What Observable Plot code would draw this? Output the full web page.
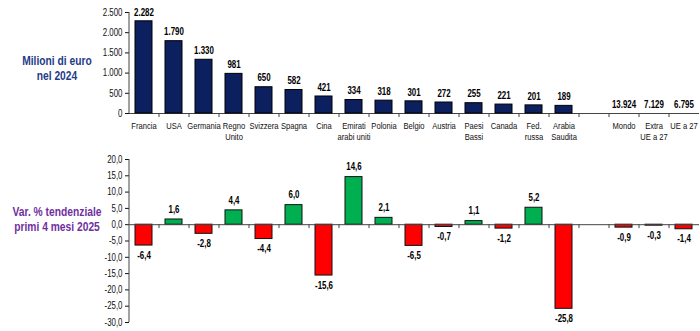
<!DOCTYPE html>
<html>
<head>
<meta charset="utf-8">
<script src="https://cdn.jsdelivr.net/npm/d3@7"></script>
<script src="https://cdn.jsdelivr.net/npm/@observablehq/plot@0.6"></script>
<style>
  html, body { margin: 0; padding: 0; background: #fff; }
  #wrap { position: relative; width: 700px; height: 331px; overflow: hidden; }
  .ttl { position: absolute; font-family: "Liberation Sans", Arial, sans-serif; font-weight: bold; font-size: 13px; line-height: 15px; text-align: center; width: 114px; left: 0; white-space: nowrap; transform: scaleX(0.79); transform-origin: 50% 50%; }
  #t1 { top: 53px; color: #1f3c88; }
  #t2 { top: 204px; color: #7030a0; }
  #topChart, #botChart { position: absolute; left: 0; }
  #topChart { top: 0; }
  #botChart { top: 145px; }
</style>
</head>
<body>
<div id="wrap">
  <div class="ttl" id="t1">Milioni di euro<br>nel 2024</div>
  <div class="ttl" id="t2">Var. % tendenziale<br>primi 4 mesi 2025</div>
  <div id="topChart"></div>
  <div id="botChart"></div>
</div>
<script>
// ---- data ----
const categories = ["Francia","USA","Germania","Regno\nUnito","Svizzera","Spagna","Cina","Emirati\narabi uniti","Polonia","Belgio","Austria","Paesi\nBassi","Canada","Fed.\nrussa","Arabia\nSaudita"," ","Mondo","Extra\nUE a 27","UE a 27"];
const aggregates = ["Mondo","Extra\nUE a 27","UE a 27"];
const values2024 = [2282,1790,1330,981,650,582,421,334,318,301,272,255,221,201,189,null,13924,7129,6795];
const varPct = [-6.4,1.6,-2.8,4.4,-4.4,6.0,-15.6,14.6,2.1,-6.5,-0.7,1.1,-1.2,5.2,-25.8,null,-0.9,-0.3,-1.4];
const topTicks = [0,500,1000,1500,2000,2500];
const botTicks = [-30,-25,-20,-15,-10,-5,0,5,10,15,20];

const loc = d3.formatLocale({decimal: ",", thousands: ".", grouping: [3], currency: ["€",""], minus: "-"});
const fInt = loc.format(",.0f");
const fDec = loc.format(".1f");

const rows = categories.map((c, i) => ({cat: c, v: values2024[i], p: varPct[i], agg: aggregates.includes(c)}));
const barRows = rows.filter(d => d.v != null && !d.agg);
const lblRows = rows.filter(d => d.v != null);
const pRows = rows.filter(d => d.p != null);

const font = '"Liberation Sans", Arial, sans-serif';
const xOpts = {domain: categories, paddingInner: 0.43, paddingOuter: 0.215, axis: null};

// narrow the text horizontally (the original uses a condensed face)
function narrow(svg, k = 0.79) {
  svg.querySelectorAll("text").forEach(t => {
    const tr = t.getAttribute("transform");
    if (tr) t.setAttribute("transform", tr + ` scale(${k},1)`);
    else {
      const x = +(t.getAttribute("x") || 0), y = +(t.getAttribute("y") || 0);
      t.removeAttribute("x"); t.removeAttribute("y");
      t.setAttribute("transform", `translate(${x},${y}) scale(${k},1)`);
    }
  });
  return svg;
}

const topPlot = Plot.plot({
  width: 700, height: 145,
  marginLeft: 129, marginRight: 1, marginTop: 12, marginBottom: 32,
  style: {fontFamily: font, fontSize: "10px", color: "#111", background: "transparent"},
  x: xOpts,
  y: {domain: [0, 2500], axis: null},
  marks: [
    Plot.axisY({ticks: topTicks, tickFormat: fInt, tickSize: 4, tickPadding: 3, fontSize: 10, label: null}),
    Plot.ruleX([categories[0]], {x: d => d, dx: -15, y1: 0, y2: 2500, stroke: "#444"}),
    Plot.ruleY([0], {stroke: "#444"}),
    Plot.ruleX(categories.slice(1), {x: d => d, dx: -15, y1: 0, y2: -100, stroke: "#444"}),
    Plot.barY(barRows, {x: "cat", y: "v", fill: "#0c1f5e", stroke: "#000", strokeWidth: 1}),
    Plot.text(lblRows, {x: "cat", y: d => d.agg ? 0 : d.v, text: d => fInt(d.v), dy: -9, fontWeight: "bold", fontSize: 10, fill: "#000"}),
    Plot.text(categories, {x: d => d, frameAnchor: "bottom", text: d => d, lineAnchor: "top", dy: 8, lineHeight: 1.15, fontSize: 9.6, fill: "#111"})
  ]
});
document.getElementById("topChart").appendChild(narrow(topPlot));

const botPlot = Plot.plot({
  width: 700, height: 186,
  marginLeft: 129, marginRight: 1, marginTop: 14, marginBottom: 9,
  style: {fontFamily: font, fontSize: "10px", color: "#111", background: "transparent"},
  x: xOpts,
  y: {domain: [-30, 20], axis: null},
  marks: [
    Plot.axisY({ticks: botTicks, tickFormat: fDec, tickSize: 4, tickPadding: 3, fontSize: 10, label: null}),
    Plot.ruleX([categories[0]], {x: d => d, dx: -15, y1: -30, y2: 20, stroke: "#444"}),
    Plot.barY(pRows, {x: "cat", y: "p", fill: d => d.p < 0 ? "#ff0000" : "#00b050", stroke: "#111", strokeWidth: 1}),
    Plot.ruleY([0], {stroke: "#444"}),
    Plot.ruleX(categories.slice(1), {x: d => d, dx: -15, y1: 0, y2: -1.2, stroke: "#444"}),
    Plot.text(pRows.filter(d => d.p >= 0), {x: "cat", y: "p", text: d => fDec(d.p), dy: -10, fontWeight: "bold", fontSize: 10, fill: "#000"}),
    Plot.text(pRows.filter(d => d.p < 0), {x: "cat", y: "p", text: d => fDec(d.p), dy: 10, fontWeight: "bold", fontSize: 10, fill: "#000"})
  ]
});
document.getElementById("botChart").appendChild(narrow(botPlot));
</script>
</body>
</html>
